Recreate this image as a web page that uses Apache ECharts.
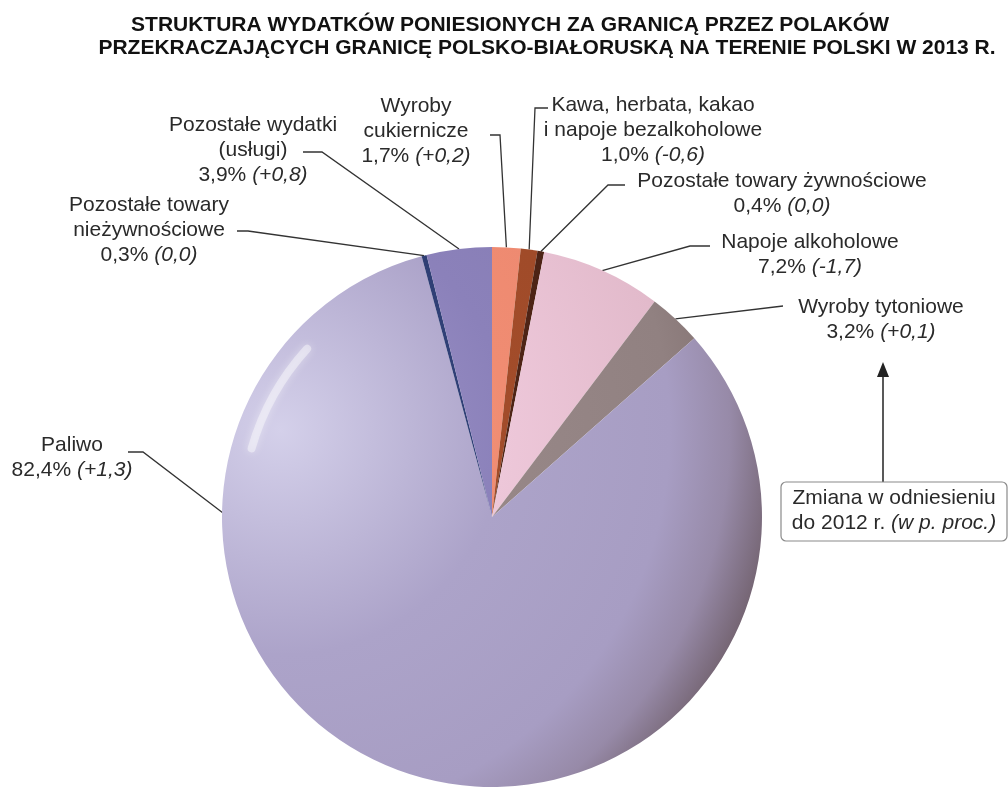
<!DOCTYPE html>
<html lang="pl">
<head>
<meta charset="UTF-8">
<title>Struktura wydatków</title>
<script src="https://cdn.jsdelivr.net/npm/echarts@6/dist/echarts.min.js"></script>
<style>
  html, body { margin: 0; padding: 0; background: #fff; }
  #chart { width: 1008px; height: 787px; }
</style>
</head>
<body>
<div id="chart"></div>
<script>
// dane
const categories = ['Wyroby cukiernicze', 'Kawa, herbata, kakao i napoje bezalkoholowe',
  'Pozostałe towary żywnościowe', 'Napoje alkoholowe', 'Wyroby tytoniowe', 'Paliwo',
  'Pozostałe towary nieżywnościowe', 'Pozostałe wydatki (usługi)'];
const labelNames = ['Wyroby\ncukiernicze', 'Kawa, herbata, kakao\ni napoje bezalkoholowe',
  'Pozostałe towary żywnościowe', 'Napoje alkoholowe', 'Wyroby tytoniowe', 'Paliwo',
  'Pozostałe towary\nnieżywnościowe', 'Pozostałe wydatki\n(usługi)'];
const shares = [1.7, 1.0, 0.4, 7.2, 3.2, 82.4, 0.3, 3.9];
const changes = ['+0,2', '-0,6', '0,0', '-1,7', '+0,1', '+1,3', '0,0', '+0,8'];

// kolory: jasny, bazowy, bazowy 2, ciemniejszy, krawędź
const palette = [
  ['#f8a890', '#f08c72', '#ec8870', '#e07e66', '#c46c56'],
  ['#b45e38', '#a24c2a', '#9e4a28', '#904224', '#7a371e'],
  ['#603020', '#4e2416', '#4c2315', '#442012', '#36170e'],
  ['#f6dcea', '#edc7d9', '#e2bacb', '#cfa7b3', '#b68f99'],
  ['#a89a9a', '#978787', '#918181', '#857474', '#706060'],
  ['#d4d0ea', '#aca3c9', '#a79dc3', '#978aa8', '#756573'],
  ['#384a82', '#2e3e74', '#2c3b6e', '#273462', '#1f2b55'],
  ['#a299cc', '#8b81ba', '#867cb3', '#786ea0', '#655b86']
];

const CX = 492, CY = 517, R = 270;
const FONT = "'Liberation Sans', Arial, sans-serif";

// położenie opisów i linii odniesienia
const labelPos = [[416, 131], [653, 130], [782, 194], [810, 255], [881, 320], [72, 458], [149, 230], [253, 150]];
const leaders = [
  [[500, 135], [490, 135]],
  [[535, 108], [548, 108]],
  [[608, 185], [625, 185]],
  [[690, 246], [710, 246]],
  [[783, 306]],
  [[143, 452], [128, 452]],
  [[248, 231], [237, 231]],
  [[322, 152], [303, 152]]
];

function fmt(v) { return v.toFixed(1).replace('.', ',') + '%'; }

function shade(c) {
  return {
    type: 'radial', x: 280, y: 430, r: 500, global: true,
    colorStops: [
      { offset: 0, color: c[0] },
      { offset: 0.45, color: c[1] },
      { offset: 0.78, color: c[2] },
      { offset: 0.9, color: c[3] },
      { offset: 1, color: c[4] }
    ]
  };
}

const data = categories.map((name, i) => ({
  name: name,
  value: shares[i],
  itemStyle: { color: shade(palette[i]) }
}));

const chart = echarts.init(document.getElementById('chart'));

chart.setOption({
  backgroundColor: '#fff',
  animation: false,
  graphic: [
    { type: 'text', x: 510, y: 25, style: { text: 'STRUKTURA WYDATKÓW PONIESIONYCH ZA GRANICĄ PRZEZ POLAKÓW',
      font: 'bold 21px ' + FONT, fill: '#111', align: 'center', verticalAlign: 'middle' } },
    { type: 'text', x: 547, y: 48, style: { text: 'PRZEKRACZAJĄCYCH GRANICĘ POLSKO-BIAŁORUSKĄ NA TERENIE POLSKI W 2013 R.',
      font: 'bold 21px ' + FONT, fill: '#111', align: 'center', verticalAlign: 'middle' } },
    // połysk
    { type: 'arc', z: 10, silent: true, shape: { cx: CX, cy: CY, r: R - 20, startAngle: 3.42, endAngle: 3.88 },
      style: { stroke: 'rgba(255,255,255,0.42)', lineWidth: 8, fill: null, lineCap: 'round',
        shadowBlur: 8, shadowColor: 'rgba(255,255,255,0.9)' } },
    // legenda zmiany
    { type: 'line', shape: { x1: 883, y1: 482, x2: 883, y2: 374 }, style: { stroke: '#222', lineWidth: 1.5 } },
    { type: 'polygon', shape: { points: [[883, 362], [877, 377], [889, 377]] }, style: { fill: '#222' } },
    { type: 'rect', shape: { x: 781, y: 482, width: 226, height: 59, r: 5 },
      style: { fill: '#fff', stroke: '#8a8a8a', lineWidth: 1.2 } },
    { type: 'text', x: 894, y: 498, style: { text: 'Zmiana w odniesieniu', font: '21px ' + FONT,
      fill: '#2a2a2a', align: 'center', verticalAlign: 'middle' } },
    { type: 'text', x: 894, y: 523, style: { text: 'do 2012 r. {i|(w p. proc.)}', font: '21px ' + FONT,
      fill: '#2a2a2a', align: 'center', verticalAlign: 'middle',
      rich: { i: { fontStyle: 'italic', fontSize: 21, fontFamily: FONT, fill: '#2a2a2a' } } } }
  ],
  series: [{
    type: 'pie',
    center: [CX, CY],
    radius: R,
    startAngle: 90,
    clockwise: true,
    avoidLabelOverlap: false,
    data: data,
    itemStyle: { borderWidth: 0 },
    emphasis: { disabled: true },
    label: {
      show: true,
      position: 'outside',
      fontFamily: FONT,
      fontSize: 21,
      lineHeight: 25,
      color: '#2a2a2a',
      align: 'center',
      formatter: p => labelNames[p.dataIndex] + '\n' + fmt(shares[p.dataIndex]) + ' {i|(' + changes[p.dataIndex] + ')}',
      rich: { i: { fontStyle: 'italic', fontSize: 21, lineHeight: 25, fontFamily: FONT, color: '#2a2a2a' } }
    },
    labelLine: { show: true, lineStyle: { color: '#333', width: 1.3 } },
    labelLayout: function (params) {
      const i = params.dataIndex;
      let a = params.labelLinePoints ? params.labelLinePoints[0] : [CX, CY - R];
      if (i === 5) a = [CX - R + 1, CY - 4];
      return {
        x: labelPos[i][0], y: labelPos[i][1],
        align: 'center', verticalAlign: 'middle',
        labelLinePoints: [a].concat(leaders[i])
      };
    }
  }]
});
</script>
</body>
</html>
